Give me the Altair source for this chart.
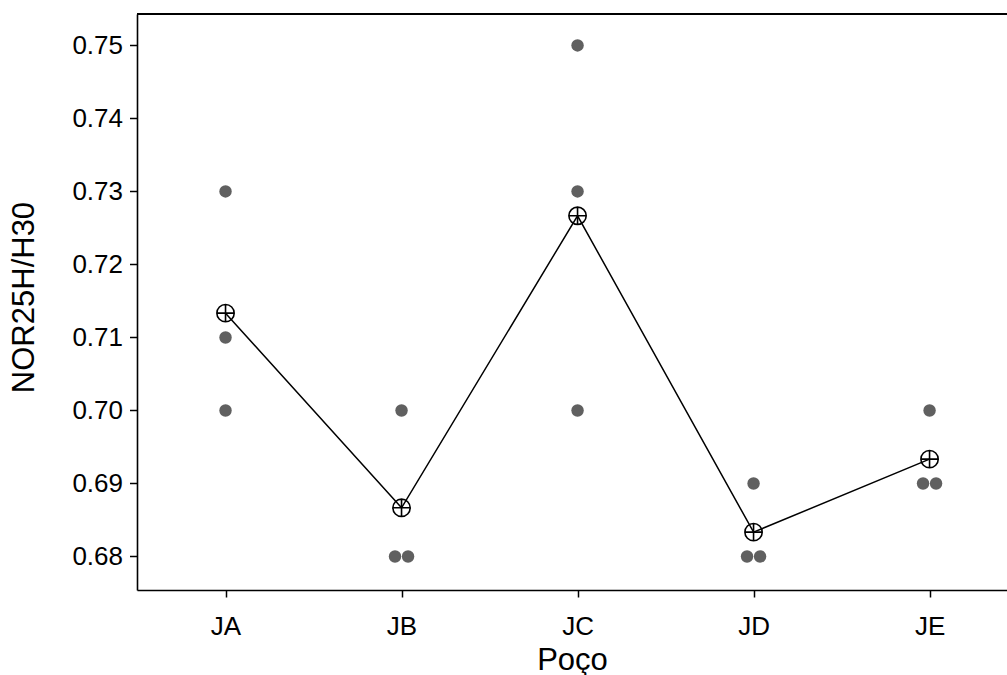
import altair as alt
import pandas as pd

# Individual values of NOR25H/H30 per well (Poço), with the mean of each well
wells = ["JA", "JB", "JC", "JD", "JE"]
values_ja = [0.73, 0.71, 0.70]
values_jb = [0.70, 0.68, 0.68]
values_jc = [0.75, 0.73, 0.70]
values_jd = [0.69, 0.68, 0.68]
values_je = [0.70, 0.69, 0.69]
y_ticks = [0.68, 0.69, 0.70, 0.71, 0.72, 0.73, 0.74, 0.75]

series = [values_ja, values_jb, values_jc, values_jd, values_je]
rows = []
for i, (well, vals) in enumerate(zip(wells, series)):
    for v in vals:
        rows.append({"well": well, "idx": i, "value": v})
df = pd.DataFrame(rows)

FONT = "Liberation Sans"
label_expr = "[" + ",".join(f"'{w}'" for w in wells) + "][datum.value]"

PLOT_W = 870
PLOT_H = 576

# The frame continues past the right edge of the page
x_scale = alt.Scale(domain=[-0.503, 4.440], nice=False, zero=False)
y_scale = alt.Scale(domain=[0.67541, 0.75431], nice=False, zero=False)

x_axis = alt.Axis(
    title="Poço", values=list(range(len(wells))), labelExpr=label_expr,
    grid=False, domain=True, domainColor="black", domainWidth=1.6,
    tickSize=7, tickWidth=1.5, tickColor="black",
    labelFont=FONT, labelFontSize=26, labelColor="black",
    labelBaseline="alphabetic", labelPadding=37,
    titleFont=FONT, titleFontSize=31, titleFontWeight="normal", titleColor="black",
    titleBaseline="alphabetic", titleY=79,
)
y_axis = alt.Axis(
    title="NOR25H/H30", values=y_ticks, format=".2f",
    grid=False, domain=True, domainColor="black", domainWidth=1.6,
    tickSize=7.5, tickWidth=1.5, tickColor="black",
    labelFont=FONT, labelFontSize=26, labelColor="black", labelPadding=7,
    titleFont=FONT, titleFontSize=31, titleFontWeight="normal", titleColor="black",
    titleX=-97, titleY=283,
)

base = alt.Chart(df)

# Side-by-side placement of repeated values within a well
points = base.transform_joinaggregate(
    n="count()", groupby=["well", "value"]
).transform_window(
    k="row_number()", groupby=["well", "value"]
).transform_calculate(
    xpos="datum.idx + (datum.k - 1 - (datum.n - 1) / 2) * 0.074"
).mark_point(
    shape="circle", filled=True, size=155, color="#606060", opacity=1
).encode(
    x=alt.X("xpos:Q", scale=x_scale, axis=x_axis),
    y=alt.Y("value:Q", scale=y_scale, axis=y_axis),
)

means = base.transform_aggregate(
    mean_value="mean(value)", groupby=["well", "idx"]
)

mean_line = means.mark_line(color="black", strokeWidth=1.5).encode(
    x=alt.X("idx:Q", scale=x_scale),
    y=alt.Y("mean_value:Q", scale=y_scale),
    order="idx:Q",
)

circle_plus = "M-1,0A1,1,0,1,1,1,0A1,1,0,1,1,-1,0ZM-1,0L1,0M0,-1L0,1"
mean_marks = means.mark_point(
    shape=circle_plus, filled=False, size=300, stroke="black", strokeWidth=1.6, opacity=1
).encode(
    x=alt.X("idx:Q", scale=x_scale),
    y=alt.Y("mean_value:Q", scale=y_scale),
)

# Top edge of the frame
top_edge = base.mark_rule(color="black", strokeWidth=1.6).encode(
    x=alt.value(0), x2=alt.value(PLOT_W), y=alt.value(0)
)

chart = alt.layer(points, mean_line, mean_marks, top_edge).properties(
    width=PLOT_W,
    height=PLOT_H,
    autosize=alt.AutoSizeParams(type="none"),
    padding={"left": 137, "top": 14, "right": 0, "bottom": 85},
    background="white",
).configure_view(
    strokeWidth=0
)

chart.save("out.html", embed_options={"renderer": "svg", "actions": False})
